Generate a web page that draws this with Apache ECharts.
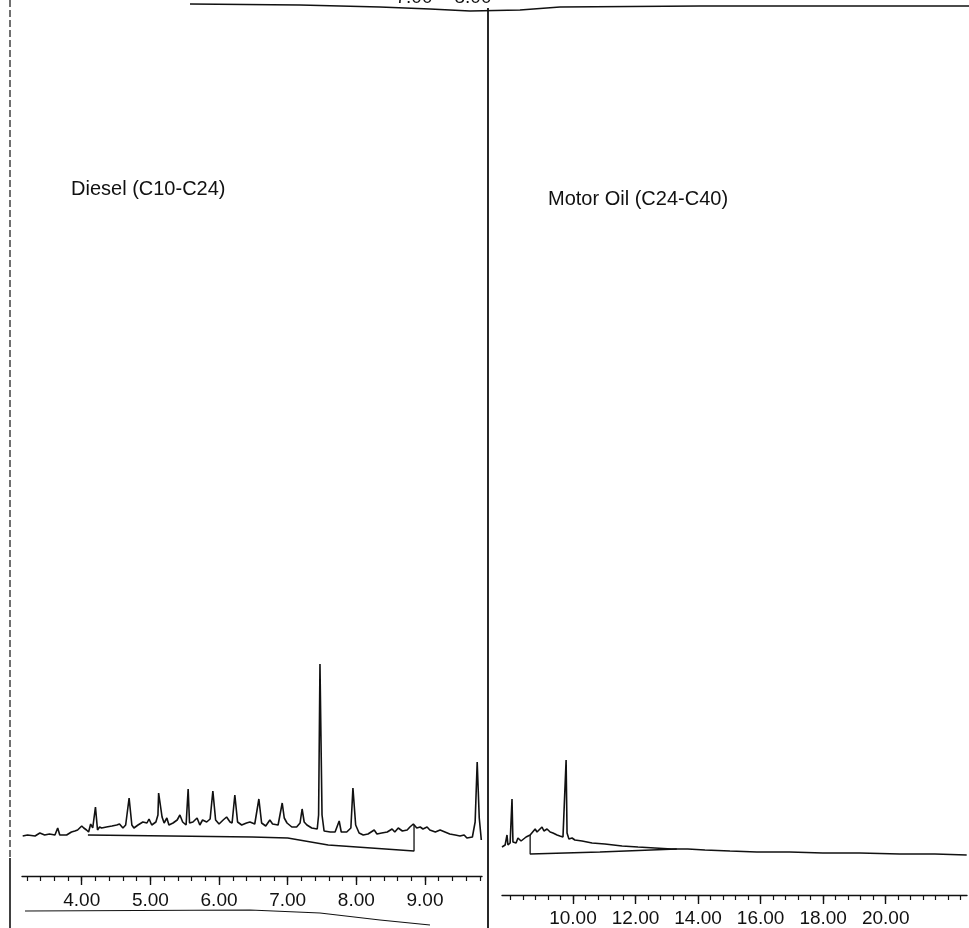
<!DOCTYPE html>
<html>
<head>
<meta charset="utf-8">
<style>
  html, body { margin: 0; padding: 0; background: #ffffff; }
  #chart { width: 969px; height: 928px; }
</style>
<script src="https://cdn.jsdelivr.net/npm/echarts@6/dist/echarts.min.js"></script>
</head>
<body>
<div id="chart"></div>
<script>
// ---- Diesel (C10-C24) trace: retention time (min) and detector response (arb. units)
const dieselTime = [3.14,3.21,3.32,3.39,3.46,3.53,3.61,3.65,3.68,3.78,3.85,3.90,3.94,4.00,4.03,4.07,4.10,4.13,4.16,4.20,4.23,4.26,4.29,4.36,4.44,4.51,4.55,4.60,4.64,4.69,4.73,4.76,4.82,4.89,4.95,4.98,5.02,5.08,5.11,5.12,5.17,5.20,5.24,5.27,5.33,5.39,5.43,5.47,5.52,5.55,5.57,5.62,5.68,5.72,5.76,5.82,5.87,5.91,5.95,6.00,6.06,6.11,6.16,6.19,6.23,6.27,6.33,6.40,6.45,6.52,6.58,6.62,6.68,6.74,6.78,6.86,6.92,6.95,6.99,7.06,7.13,7.18,7.21,7.24,7.28,7.35,7.43,7.45,7.47,7.50,7.53,7.62,7.69,7.75,7.78,7.86,7.92,7.95,7.99,8.04,8.10,8.17,8.26,8.30,8.37,8.45,8.52,8.56,8.61,8.67,8.74,8.78,8.83,8.88,8.93,8.97,9.03,9.07,9.15,9.22,9.29,9.36,9.44,9.51,9.57,9.61,9.69,9.73,9.76,9.79,9.82];
const dieselSignal = [40,41,40,43,41,42,41,48,41,41,44,45,46,50,48,46,44,52,48,69,46,49,48,49,50,51,52,48,51,78,51,48,51,54,53,57,51,54,61,83,59,53,58,51,53,56,61,54,51,87,53,54,58,51,56,54,57,85,56,52,56,59,54,53,81,54,51,53,54,52,77,53,50,56,52,51,73,58,53,49,49,53,67,54,51,48,47,61,212,61,45,44,44,55,44,44,48,88,51,43,41,42,46,42,43,44,47,44,48,45,46,49,52,48,49,47,49,46,44,46,44,42,41,40,41,38,39,54,114,58,36];
// Diesel integration baseline
const dieselBaseTime = [4.09, 6.48, 7.00, 7.59, 8.84, 8.84];
const dieselBaseSignal = [41, 39, 38, 31, 25, 51];

// ---- Motor Oil (C24-C40) trace
const oilTime = [7.73,7.83,7.89,7.92,7.99,8.05,8.08,8.18,8.24,8.34,8.40,8.50,8.56,8.63,8.69,8.79,8.85,8.91,9.01,9.07,9.17,9.27,9.36,9.49,9.58,9.68,9.74,9.78,9.81,9.87,9.97,10.06,10.29,10.61,11.02,11.57,12.08,12.62,13.16,13.67,14.22,15.02,15.88,16.93,17.99,19.17,20.45,21.57,22.59];
const oilSignal = [48,50,60,50,52,96,53,52,57,54,56,58,57,60,62,66,63,65,68,64,66,63,62,60,59,58,60,135,62,56,57,55,54,52,51,49,48,47,46,46,45,44,43,43,42,42,41,41,40];
// Motor oil integration baseline
const oilBaseTime = [8.63, 8.63, 10.86, 13.32];
const oilBaseSignal = [60, 41, 43, 46];

// ---- Axis ticks / labels
const dieselTicks = [4, 5, 6, 7, 8, 9];
const oilTicks = [10, 12, 14, 16, 18, 20];
const dieselRange = [3.13, 9.83];
const oilRange = [7.73, 22.6];
const dieselMinorStep = 0.2;
const oilMinorStep = 0.4;

function pairs(xs, ys) { return xs.map((x, i) => [x, ys[i]]); }
function minorTicks(range, step) {
  const out = [];
  const start = Math.ceil(range[0] / step - 1e-9);
  const end = Math.floor(range[1] / step + 1e-9);
  for (let k = start; k <= end; k++) out.push(+(k * step).toFixed(2));
  return out;
}

const FONT = "'Liberation Sans', Arial, Helvetica, sans-serif";
const INK = '#111111';

const chart = echarts.init(document.getElementById('chart'), null, { renderer: 'canvas' });

function majorAxis(grid, range, ticks, margin) {
  return {
    type: 'value', gridIndex: grid, min: range[0], max: range[1], position: 'bottom',
    axisLine: { show: true, lineStyle: { color: INK, width: 1.4 } },
    axisTick: { show: true, customValues: ticks, length: 9, lineStyle: { color: INK, width: 1.4 } },
    axisLabel: { show: true, customValues: ticks, formatter: v => Number(v).toFixed(2),
      fontSize: 19, color: INK, fontFamily: FONT, margin: margin },
    splitLine: { show: false }
  };
}
function minorAxis(grid, range, step) {
  return {
    type: 'value', gridIndex: grid, min: range[0], max: range[1], position: 'bottom',
    axisLine: { show: false },
    axisTick: { show: true, customValues: minorTicks(range, step), length: 5, lineStyle: { color: INK, width: 1.2 } },
    axisLabel: { show: false },
    splitLine: { show: false }
  };
}

const option = {
  animation: false,
  backgroundColor: '#ffffff',
  grid: [
    { left: 22, right: 487, top: 10, bottom: 52 },
    { left: 502, right: 2, top: 10, bottom: 33 }
  ],
  xAxis: [
    majorAxis(0, dieselRange, dieselTicks, 15),
    minorAxis(0, dieselRange, dieselMinorStep),
    majorAxis(1, oilRange, oilTicks, 14),
    minorAxis(1, oilRange, oilMinorStep)
  ],
  yAxis: [
    { type: 'value', gridIndex: 0, min: 0, max: 866, show: false },
    { type: 'value', gridIndex: 1, min: 0, max: 885, show: false }
  ],
  title: [
    { text: 'Diesel (C10-C24)', left: 66, top: 174,
      textStyle: { fontSize: 20, fontWeight: 'normal', color: INK, fontFamily: FONT } },
    { text: 'Motor Oil (C24-C40)', left: 543, top: 184,
      textStyle: { fontSize: 20, fontWeight: 'normal', color: INK, fontFamily: FONT } }
  ],
  series: [
    { type: 'line', name: 'Diesel', xAxisIndex: 0, yAxisIndex: 0, data: pairs(dieselTime, dieselSignal),
      showSymbol: false, symbol: 'none', lineStyle: { color: INK, width: 1.6 }, z: 3 },
    { type: 'line', name: 'Diesel baseline', xAxisIndex: 0, yAxisIndex: 0, data: pairs(dieselBaseTime, dieselBaseSignal),
      showSymbol: false, symbol: 'none', lineStyle: { color: INK, width: 1.3 }, z: 2 },
    { type: 'line', name: 'Motor Oil', xAxisIndex: 2, yAxisIndex: 1, data: pairs(oilTime, oilSignal),
      showSymbol: false, symbol: 'none', lineStyle: { color: INK, width: 1.6 }, z: 3 },
    { type: 'line', name: 'Motor Oil baseline', xAxisIndex: 2, yAxisIndex: 1, data: pairs(oilBaseTime, oilBaseSignal),
      showSymbol: false, symbol: 'none', lineStyle: { color: INK, width: 1.3 }, z: 2 }
  ],
  graphic: [
    // left border (dashed upper part, solid lower part)
    { type: 'line', shape: { x1: 10, y1: 0, x2: 10, y2: 858 }, style: { stroke: INK, lineWidth: 1.2, lineDash: [7, 3] } },
    { type: 'line', shape: { x1: 10, y1: 858, x2: 10, y2: 928 }, style: { stroke: INK, lineWidth: 1.6 } },
    // panel divider
    { type: 'line', shape: { x1: 488, y1: 8, x2: 488, y2: 928 }, style: { stroke: INK, lineWidth: 1.8 } },
    // remnant of the upper trace's time axis along the top edge
    { type: 'polyline', shape: { points: [[190, 4], [300, 5], [380, 7], [430, 9], [470, 11], [520, 10], [560, 7], [700, 6], [969, 6]] },
      style: { stroke: INK, lineWidth: 1.4, fill: null } },
    { type: 'text', x: 414, y: -12, style: { text: '7.00', fontSize: 19, fontFamily: FONT, fill: INK, align: 'center', verticalAlign: 'top' } },
    { type: 'text', x: 473, y: -12, style: { text: '8.00', fontSize: 19, fontFamily: FONT, fill: INK, align: 'center', verticalAlign: 'top' } },
    // lower frame line under the diesel time labels
    { type: 'polyline', shape: { points: [[25, 911], [250, 910], [320, 913], [380, 920], [430, 925]] },
      style: { stroke: INK, lineWidth: 1.2, fill: null } }
  ]
};

chart.setOption(option);
</script>
</body>
</html>
